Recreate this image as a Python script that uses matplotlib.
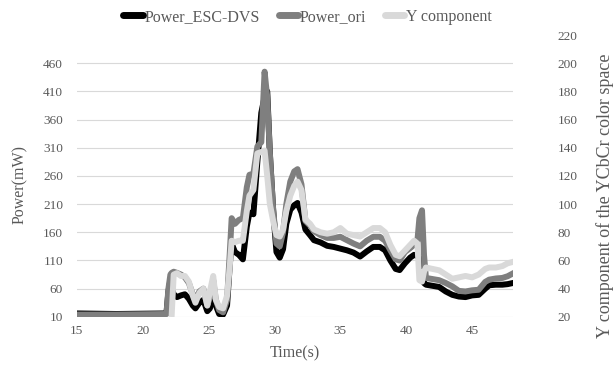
import numpy as np
import matplotlib
matplotlib.use("Agg")
import matplotlib.pyplot as plt

# time (s) and the three traces
time_s = [15.0, 18.0, 21.8, 21.95, 22.1, 22.2, 22.35, 22.6, 22.9, 23.2, 23.5, 23.8,
          24.0, 24.3, 24.6, 24.9, 25.1, 25.35, 25.55, 25.8, 26.1, 26.4, 26.6, 26.75,
          27.0, 27.3, 27.6, 27.9, 28.1, 28.4, 28.7, 29.0, 29.25, 29.45, 29.65, 29.9,
          30.15, 30.4, 30.65, 30.9, 31.2, 31.5, 31.75, 32.05, 32.35, 32.7, 33.0, 33.5,
          34.0, 34.5, 35.0, 35.5, 36.0, 36.5, 37.0, 37.5, 38.0, 38.4, 38.8, 39.2,
          39.5, 39.9, 40.3, 40.6, 40.85, 41.0, 41.2, 41.35, 41.5, 42.0, 42.5, 43.0,
          43.5, 44.0, 44.5, 45.0, 45.5, 46.0, 46.3, 46.8, 47.3, 47.7, 48.1]

power_esc = [16, 15, 16, 55, 75, 60, 50, 45, 48, 50, 42, 30,
             25, 35, 40, 20, 25, 55, 30, 15, 14, 30, 100, 140,
             125, 120, 112, 170, 195, 192, 285, 372, 400, 410, 300, 200,
             125, 115, 130, 175, 200, 208, 212, 195, 165, 155, 146, 142,
             136, 134, 131, 128, 124, 117, 126, 134, 134, 128, 110, 95,
             93, 105, 115, 120, 118, 115, 80, 70, 67, 65, 63, 55,
             49, 46, 45, 48, 49, 60, 66, 67, 67, 68, 70]

power_ori = [14, 14, 15, 60, 85, 88, 90, 88, 85, 80, 70, 50,
             40, 55, 60, 30, 45, 75, 40, 22, 18, 40, 120, 185,
             175, 182, 185, 240, 262, 264, 312, 320, 445, 400, 300, 200,
             140, 135, 160, 210, 250, 268, 272, 245, 180, 172, 162, 155,
             150, 150, 152, 146, 140, 135, 145, 152, 152, 145, 128, 112,
             110, 125, 132, 138, 145, 185, 199, 120, 79, 77, 75, 70,
             64, 56, 55, 57, 58, 72, 76, 78, 79, 82, 87]

y_comp = [np.nan, np.nan, np.nan, np.nan, np.nan, 22, 50, 51, 49, 49, 45, 35,
          30, 37, 40, 28, 38, 49, 32, 27, 26, 35, 55, 74,
          73, 74, 74, 95, 106, 110, 136, 137, 138, 120, 100, 88,
          78, 77, 82, 95, 106, 113, 116, 110, 89, 86, 82, 80,
          79, 80, 83, 79, 78, 77, 80, 83, 83, 80, 71, 64,
          63, 67, 71, 74, 72, 46, 45, 52, 55, 54, 53, 50,
          47, 48, 49, 48, 50, 54, 55, 55, 56, 58, 59]

left_ticks = list(range(10, 461, 50))
right_ticks = list(range(20, 221, 20))
x_ticks = [15, 20, 25, 30, 35, 40, 45]

txt = "#595959"
plt.rcParams['font.family'] = ['Liberation Serif', 'DejaVu Serif']

fig = plt.figure(figsize=(6.15, 3.65), dpi=100)
ax = fig.add_axes([0.125, 0.132, 0.709, 0.772])
ax2 = ax.twinx()

lw = 4.3
l1, = ax.plot(time_s, power_esc, color="black", lw=lw, solid_joinstyle="round")
l2, = ax.plot(time_s, power_ori, color="#7f7f7f", lw=lw, solid_joinstyle="round")
l3, = ax2.plot(time_s, y_comp, color="#d9d9d9", lw=lw, solid_joinstyle="round")

ax.set_xlim(15, 48.1)
ax.set_ylim(10, 510)
ax2.set_ylim(20, 220)
ax.set_yticks(left_ticks)
ax2.set_yticks(right_ticks)
ax.set_xticks(x_ticks)

ax.grid(axis="y", color="#d9d9d9", lw=0.8)
ax.set_axisbelow(True)
for a in (ax, ax2):
    for s in a.spines.values():
        s.set_visible(False)
    a.tick_params(length=0, labelsize=9.5, labelcolor=txt)
ax.tick_params(axis="x", pad=6)
ax.tick_params(axis="y", pad=10)
ax2.tick_params(axis="y", pad=32)

ax.set_xlabel("Time(s)", fontsize=11.5, color=txt, labelpad=6)
ax.set_ylabel("Power(mW)", fontsize=11.5, color=txt)
ax.yaxis.set_label_coords(-0.112, 0.47)
ax2.set_ylabel("Y component of the YCbCr color space", fontsize=13, color=txt)
ax2.yaxis.set_label_coords(1.19, 0.43)

leg = fig.legend([l1, l2, l3], ["Power_ESC-DVS", "Power_ori", "Y component"],
                 loc="upper center", bbox_to_anchor=(0.5, 1.015), ncol=3, frameon=False,
                 fontsize=11.5, handlelength=1.2, handletextpad=0.1, columnspacing=1.2,
                 labelcolor=txt)
for h in leg.legend_handles:
    h.set_linewidth(5)
    h.set_solid_capstyle("round")

fig.savefig("out.png", dpi=100)
